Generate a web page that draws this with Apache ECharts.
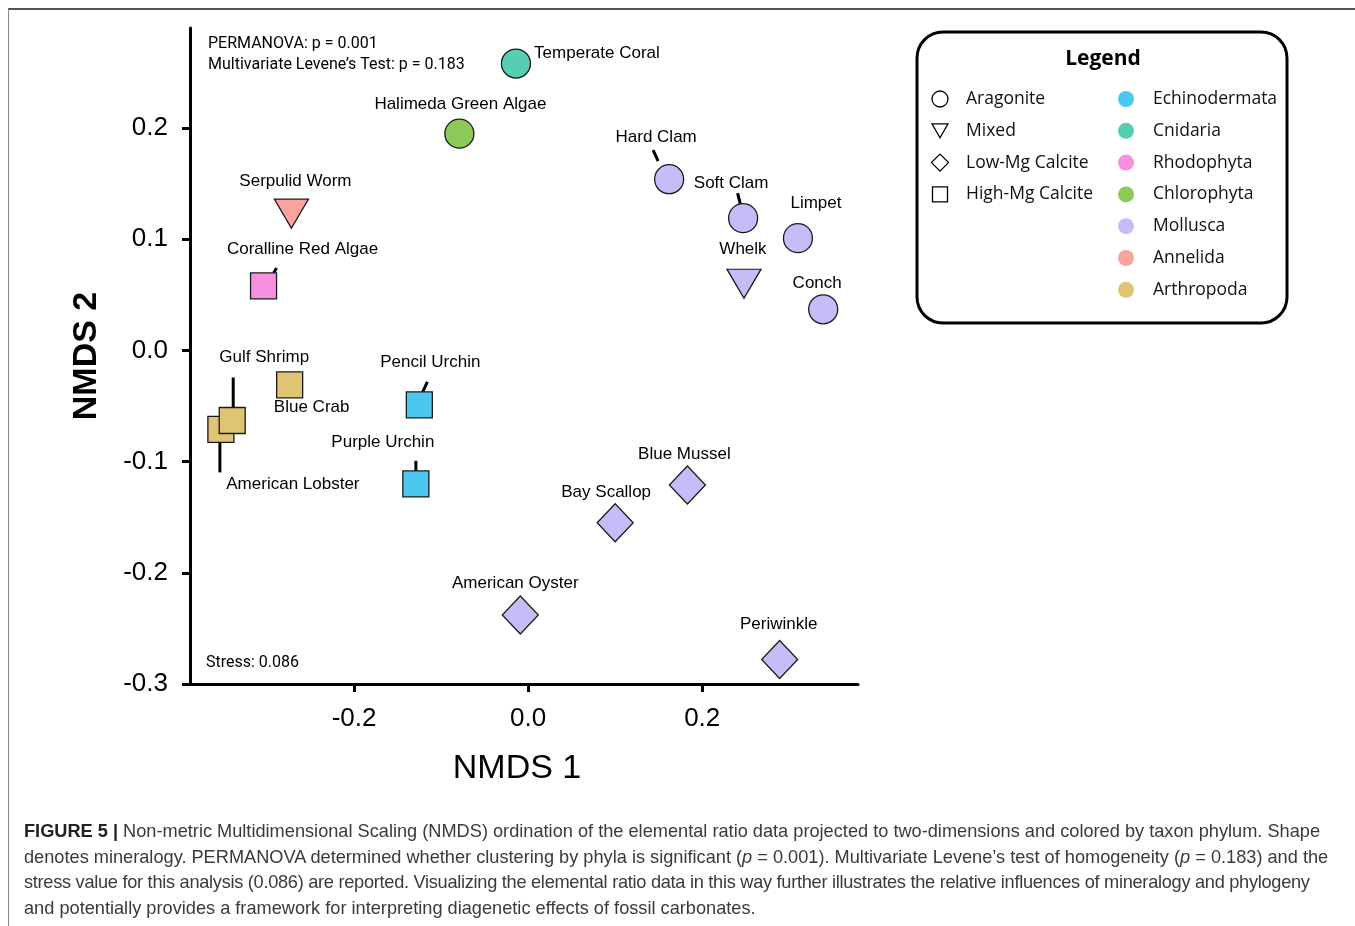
<!DOCTYPE html>
<html>
<head>
<meta charset="utf-8">
<title>NMDS ordination</title>
<script src="https://cdn.jsdelivr.net/npm/echarts@6/dist/echarts.min.js"></script>
<style>
  html, body { margin: 0; padding: 0; background: #fff; }
  body { width: 1355px; height: 926px; position: relative; overflow: hidden; }
  #frame {
    position: absolute; left: 8px; top: 8px; right: -10px; bottom: -10px;
    border-top: 2px solid #555; border-left: 1.5px solid #8a8a8a;
  }
  #main { position: absolute; left: 0; top: 0; width: 1355px; height: 926px; }
  #caption {
    position: absolute; left: 24px; top: 819px;
    font-family: "Liberation Sans", Arial, sans-serif; font-size: 18.2px;
    line-height: 25.5px; color: #3a3a3a; white-space: nowrap;
  }
  #caption b { color: #222; }
  #caption .tight { letter-spacing: -0.28px; }
</style>
</head>
<body>
<div id="frame"></div>
<div id="main"></div>
<div id="caption">
  <b>FIGURE 5 |</b> Non-metric Multidimensional Scaling (NMDS) ordination of the elemental ratio data projected to two-dimensions and colored by taxon phylum. Shape<br>
  denotes mineralogy. PERMANOVA determined whether clustering by phyla is significant (<i>p</i> = 0.001). Multivariate Levene’s test of homogeneity (<i>p</i> = 0.183) and the<br>
  <span class="tight">stress value for this analysis (0.086) are reported. Visualizing the elemental ratio data in this way further illustrates the relative influences of mineralogy and phylogeny</span><br>
  and potentially provides a framework for interpreting diagenetic effects of fossil carbonates.
</div>
<script>
// taxa and their NMDS scores
const names = ["Temperate Coral", "Halimeda Green Algae", "Hard Clam", "Soft Clam", "Limpet", "Whelk", "Conch",
  "Serpulid Worm", "Coralline Red Algae", "Blue Crab", "American Lobster", "Gulf Shrimp",
  "Pencil Urchin", "Purple Urchin", "Blue Mussel", "Bay Scallop", "American Oyster", "Periwinkle"];
const nmds1 = [-0.014, -0.079, 0.162, 0.247, 0.310, 0.248, 0.339,
  -0.272, -0.304, -0.274, -0.353, -0.340,
  -0.125, -0.129, 0.183, 0.100, -0.009, 0.289];
const nmds2 = [0.258, 0.195, 0.154, 0.119, 0.101, 0.060, 0.037,
  0.123, 0.058, -0.031, -0.071, -0.063,
  -0.049, -0.120, -0.121, -0.155, -0.238, -0.278];
const minerals = ["Aragonite", "Aragonite", "Aragonite", "Aragonite", "Aragonite", "Mixed", "Aragonite",
  "Mixed", "High-Mg Calcite", "High-Mg Calcite", "High-Mg Calcite", "High-Mg Calcite",
  "High-Mg Calcite", "High-Mg Calcite", "Low-Mg Calcite", "Low-Mg Calcite", "Low-Mg Calcite", "Low-Mg Calcite"];
const phyla = ["Cnidaria", "Chlorophyta", "Mollusca", "Mollusca", "Mollusca", "Mollusca", "Mollusca",
  "Annelida", "Rhodophyta", "Arthropoda", "Arthropoda", "Arthropoda",
  "Echinodermata", "Echinodermata", "Mollusca", "Mollusca", "Mollusca", "Mollusca"];

const mineralNames = ["Aragonite", "Mixed", "Low-Mg Calcite", "High-Mg Calcite"];
const phylumNames = ["Echinodermata", "Cnidaria", "Rhodophyta", "Chlorophyta", "Mollusca", "Annelida", "Arthropoda"];
const phylumColors = ["#4cc8f0", "#55cfb2", "#f890e2", "#8cc95a", "#c8bcf8", "#f9a39e", "#dec473"];

const xTicks = [-0.2, 0, 0.2];
const yTicks = [-0.3, -0.2, -0.1, 0, 0.1, 0.2];

// styling ------------------------------------------------------------
const FONT = "Liberation Sans";
const TRI = "path://M0,0L34,0L17,29Z";
const symbolOf = {
  "Aragonite": ["circle", 29],
  "Mixed": [TRI, [34, 29]],
  "Low-Mg Calcite": ["diamond", [36, 38]],
  "High-Mg Calcite": ["rect", 26],
};
// label centre relative to the marker centre (px)
const labelOffset = {
  "Temperate Coral": [81, -10], "Halimeda Green Algae": [1, -29], "Hard Clam": [-13, -42],
  "Soft Clam": [-12, -35], "Limpet": [18, -35], "Whelk": [-1, -34], "Conch": [-6, -26],
  "Serpulid Worm": [4, -32], "Coralline Red Algae": [39, -37], "Blue Crab": [22, 22],
  "American Lobster": [72, 55], "Gulf Shrimp": [32, -63], "Pencil Urchin": [11, -43],
  "Purple Urchin": [-33, -42], "Blue Mussel": [-3, -31], "Bay Scallop": [-9, -30],
  "American Oyster": [-5, -32], "Periwinkle": [-1, -35],
};
// leader lines, from/to relative to the marker centre (px)
const leaders = {
  "Hard Clam": [-16, -29, -11, -18],
  "Soft Clam": [-5.5, -25, -2.5, -13],
  "Coralline Red Algae": [10, -13, 13, -18],
  "Gulf Shrimp": [1, -43, 1, -12],
  "American Lobster": [-1, 13, -1, 43],
  "Pencil Urchin": [3, -12, 8, -23],
  "Purple Urchin": [0, -23, 0, -12],
};

const points = names.map((n, i) => {
  const s = symbolOf[minerals[i]];
  return {
    name: n,
    value: [nmds1[i], nmds2[i]],
    symbol: s[0],
    symbolSize: s[1],
    itemStyle: { color: phylumColors[phylumNames.indexOf(phyla[i])] },
    label: { offset: labelOffset[n] },
  };
});

const leaderData = names.map((n, i) => [nmds1[i], nmds2[i], i]).filter(d => leaders[names[d[2]]]);

// legend box drawn as graphics
const legendX = 917, legendY = 32, rowH = 31.8, row0 = 99;
const legendFont = "17.5px 'Open Sans'";
const legendEls = [
  { type: "rect", shape: { x: legendX, y: legendY, width: 370, height: 291, r: 26 },
    style: { fill: "#fff", stroke: "#000", lineWidth: 3 } },
  { type: "text", x: 1103, y: 59,
    style: { text: "Legend", font: "bold 21px 'Open Sans'", fill: "#000", align: "center", verticalAlign: "middle" } },
];
const mineralIcon = [
  { type: "circle", shape: { cx: 0, cy: 0, r: 8 } },
  { type: "polygon", shape: { points: [[-8, -7], [8, -7], [0, 7]] } },
  { type: "polygon", shape: { points: [[0, -8.5], [8.5, 0], [0, 8.5], [-8.5, 0]] } },
  { type: "rect", shape: { x: -7.5, y: -7.5, width: 15, height: 15 } },
];
mineralNames.forEach((m, i) => {
  const y = row0 + i * rowH;
  legendEls.push(Object.assign({}, mineralIcon[i], { x: 940, y: y,
    style: { fill: "none", stroke: "#000", lineWidth: 1.3 } }));
  legendEls.push({ type: "text", x: 966, y: y,
    style: { text: m, font: legendFont, fill: "#111", verticalAlign: "middle" } });
});
phylumNames.forEach((p, i) => {
  const y = row0 + i * rowH;
  legendEls.push({ type: "circle", x: 1126, y: y, shape: { cx: 0, cy: 0, r: 8 },
    style: { fill: phylumColors[i] } });
  legendEls.push({ type: "text", x: 1153, y: y,
    style: { text: p, font: legendFont, fill: "#111", verticalAlign: "middle" } });
});

const noteFont = "16px Roboto, 'Liberation Sans', sans-serif";
const notes = [
  { type: "text", x: 208, y: 44, style: { text: "PERMANOVA: p = 0.001", font: noteFont, fill: "#000", verticalAlign: "middle" } },
  { type: "text", x: 208, y: 65, style: { text: "Multivariate Levene’s Test: p = 0.183", font: noteFont, fill: "#000", verticalAlign: "middle" } },
  { type: "text", x: 206, y: 663, style: { text: "Stress: 0.086", font: noteFont, fill: "#000", verticalAlign: "middle" } },
];

const chart = echarts.init(document.getElementById("main"));

const axisCommon = {
  splitLine: { show: false },
  axisLine: { onZero: false, lineStyle: { color: "#000", width: 3 } },
  axisTick: { inside: false, length: 8, lineStyle: { color: "#000", width: 3 } },
};

chart.setOption({
  animation: false,
  grid: { left: 190, top: 28, right: 497, bottom: 242 },
  xAxis: Object.assign({}, axisCommon, {
    type: "value", min: -0.3885, max: 0.379,
    name: "NMDS 1", nameLocation: "middle", nameGap: 68,
    nameTextStyle: { fontFamily: FONT, fontSize: 34, color: "#000", padding: [0, 14, 0, 0] },
    axisTick: Object.assign({}, axisCommon.axisTick, { customValues: xTicks }),
    axisLabel: { customValues: xTicks, margin: 22, fontFamily: FONT, fontSize: 26, color: "#000",
      formatter: v => v.toFixed(1) },
  }),
  yAxis: Object.assign({}, axisCommon, {
    type: "value", min: -0.3, max: 0.29, interval: 0.1,
    name: "NMDS 2", nameLocation: "middle", nameGap: 86,
    nameTextStyle: { fontFamily: FONT, fontSize: 34, fontWeight: "bold", color: "#000" },
    axisTick: Object.assign({}, axisCommon.axisTick, { customValues: yTicks }),
    axisLabel: { customValues: yTicks, margin: 22, fontFamily: FONT, fontSize: 26, color: "#000",
      formatter: v => v.toFixed(1) },
  }),
  graphic: legendEls.concat(notes),
  series: [
    {
      type: "custom",
      silent: true,
      clip: false,
      z: 1,
      data: leaderData,
      renderItem(params, api) {
        const p = api.coord([api.value(0), api.value(1)]);
        const o = leaders[names[api.value(2)]];
        return {
          type: "line",
          shape: { x1: p[0] + o[0], y1: p[1] + o[1], x2: p[0] + o[2], y2: p[1] + o[3] },
          style: { stroke: "#000", lineWidth: 3 },
        };
      },
    },
    {
      type: "scatter",
      z: 2,
      data: points,
      itemStyle: { borderColor: "#1a1a1a", borderWidth: 1.3, opacity: 1 },
      label: {
        show: true, position: "inside", formatter: "{b}",
        fontFamily: FONT, fontSize: 17, color: "#000",
      },
      emphasis: { disabled: true },
    },
  ],
});
</script>
</body>
</html>
